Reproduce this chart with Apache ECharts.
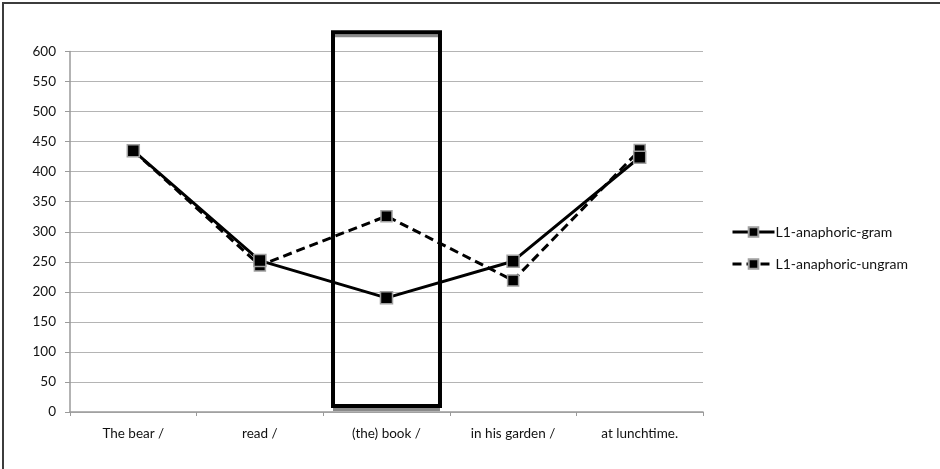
<!doctype html>
<html>
	<head>
		<meta charset="UTF-8">
		<title></title>
		<script src="https://cdn.jsdelivr.net/npm/echarts@6/dist/echarts.min.js"></script>
		<style>
			body{
				margin:0;
				background:#fff;
			}
			.frame{
				position:absolute;
				left:2px;
				top:2px;
				width:960px;
				height:490px;
				border:2px solid #3c3c3c;
				pointer-events:none;
			}
		</style>
	</head>
	<body>
		<div id="main" style="width:940px;height:469px;"></div>
		<div class="frame"></div>
		<script type="text/javascript">
			var categories = ['The bear /', 'read /', '(the) book /', 'in his garden /', 'at lunchtime.'];
			var gramValues = [435, 252, 190, 251, 424];
			var ungramValues = [435, 244, 326, 219, 436];
			var yTicks = [0, 600, 50];
			// highlight box around the third word: [category index, bottom value, top value]
			var boxData = [[2, 10, 632]];

			var chart = echarts.init(document.getElementById('main'));
			var font = 'Lato, "Open Sans", sans-serif';

			chart.setOption({
				animation:false,
				textStyle:{ fontFamily:font },
				grid:{ left:70, right:237, top:51.5, bottom:57 },
				legend:{
					orient:'vertical',
					left:726,
					top:220,
					itemGap:18,
					itemWidth:42,
					itemHeight:12,
					lineStyle:{ width:3 },
					textStyle:{ fontSize:14, color:'#111', fontFamily:font, padding:[0,0,0,-4] },
					data:['L1-anaphoric-gram', 'L1-anaphoric-ungram']
				},
				xAxis:{
					type:'category',
					data:categories,
					axisLine:{ lineStyle:{ color:'#9a9a9a', width:1.5 } },
					axisTick:{ show:true, length:4, lineStyle:{ color:'#9a9a9a' } },
					axisLabel:{ color:'#111', fontSize:13.5, margin:15 }
				},
				yAxis:{
					type:'value',
					min:yTicks[0],
					max:yTicks[1],
					interval:yTicks[2],
					axisLine:{ show:true, lineStyle:{ color:'#9a9a9a', width:1.5 } },
					axisTick:{ show:true, length:5, lineStyle:{ color:'#9a9a9a' } },
					axisLabel:{ color:'#111', fontSize:13.5, margin:14 },
					splitLine:{ lineStyle:{ color:'#b4b4b4', width:1.2 } }
				},
				series:[
					{
						name:'L1-anaphoric-ungram',
						type:'line',
						data:ungramValues,
						symbol:'rect',
						symbolSize:11,
						z:3,
						lineStyle:{ color:'#000', width:3, type:[9,5] },
						itemStyle:{ color:'#000', borderColor:'#a0a0a0', borderWidth:1.5 }
					},
					{
						name:'L1-anaphoric-gram',
						type:'line',
						data:gramValues,
						symbol:'rect',
						symbolSize:12,
						z:4,
						lineStyle:{ color:'#000', width:3 },
						itemStyle:{ color:'#000', borderColor:'#a0a0a0', borderWidth:1.5 }
					},
					{
						type:'custom',
						data:boxData,
						clip:false,
						silent:true,
						z:5,
						renderItem:function(params, api){
							var top = api.coord([api.value(0), api.value(2)]);
							var bottom = api.coord([api.value(0), api.value(1)]);
							var bw = api.size([1, 0])[0] * 0.845;
							var x0 = top[0] - bw / 2;
							var x1 = top[0] + bw / 2;
							return {
								type:'group',
								children:[
									{
										type:'line',
										shape:{ x1:x0 + 2, y1:top[1] + 3.5, x2:x1 - 2, y2:top[1] + 3.5 },
										style:{ stroke:'#8a8a8a', lineWidth:3 }
									},
									{
										type:'line',
										shape:{ x1:x0, y1:bottom[1] + 3.5, x2:x1, y2:bottom[1] + 3.5 },
										style:{ stroke:'#8a8a8a', lineWidth:3 }
									},
									{
										type:'rect',
										shape:{ x:x0, y:top[1], width:bw, height:bottom[1] - top[1] },
										style:{ fill:'none', stroke:'#000', lineWidth:4 }
									}
								]
							};
						}
					}
				]
			});
		</script>
	</body>
</html>
